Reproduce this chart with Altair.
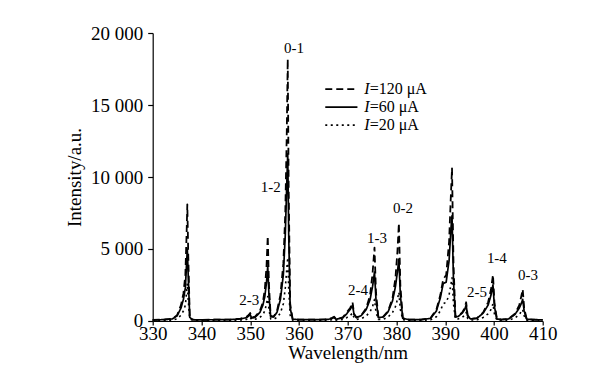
import altair as alt
import pandas as pd

# Wavelength grid (nm)
wl = [330.0, 332.0, 334.0, 335.0, 335.8, 336.3, 336.7, 336.95, 337.1, 337.3, 337.6, 338.2,
      340.0, 343.0, 346.0, 348.0, 349.2, 349.7, 350.0, 350.3, 351.0, 352.0, 352.6, 353.0,
      353.35, 353.6, 353.85, 354.2, 354.8, 355.5, 356.2, 356.8, 357.2, 357.5, 357.7, 357.9,
      358.2, 358.7, 360.0, 363.0, 366.0, 366.8, 367.2, 367.6, 369.0, 369.8, 370.5, 371.0,
      371.3, 371.8, 372.8, 373.8, 374.6, 375.1, 375.5, 375.8, 376.3, 377.3, 378.3, 379.2,
      379.8, 380.2, 380.5, 380.8, 381.3, 382.5, 385.0, 387.0, 388.2, 389.0, 389.6, 390.2,
      390.8, 391.2, 391.4, 391.7, 392.1, 392.7, 393.5, 394.0, 394.3, 394.6, 395.2, 396.5,
      397.8, 398.8, 399.4, 399.8, 400.1, 400.6, 401.5, 403.0, 404.3, 405.2, 405.6, 405.9,
      406.2, 406.7, 408.0, 410.0]

# Intensity at I = 120 uA (dashed)
i120 = [80, 90, 150, 400, 1100, 1900, 3200, 6000, 8100, 4500, 300, 90,
        80, 90, 110, 160, 280, 420, 560, 250, 300, 700, 1300, 2200,
        3800, 5900, 2500, 350, 300, 700, 1800, 4000, 7500, 13000, 18200, 9000,
        1200, 150, 90, 90, 120, 220, 300, 130, 250, 600, 900, 1300,
        500, 250, 400, 900, 1800, 3300, 5100, 2000, 250, 300, 700, 1600,
        3000, 4800, 6800, 2500, 200, 100, 90, 200, 800, 1800, 2900, 3200,
        5500, 9000, 10600, 4000, 300, 350, 600, 900, 1300, 400, 150, 200,
        600, 1300, 2200, 3200, 1300, 150, 100, 150, 500, 1100, 1700, 2200,
        900, 150, 90, 80]

# Intensity at I = 60 uA (solid)
i60 = [80, 90, 140, 350, 900, 1500, 2300, 4000, 5000, 3000, 250, 90,
       80, 90, 100, 140, 230, 340, 450, 200, 250, 600, 1100, 1700,
       2700, 3800, 1800, 300, 280, 600, 1500, 3200, 6000, 9500, 11600, 6000,
       900, 130, 90, 90, 110, 180, 240, 120, 220, 500, 800, 1100,
       450, 230, 380, 800, 1500, 2400, 3400, 1500, 230, 280, 650, 1400,
       2400, 3400, 4300, 1800, 180, 100, 90, 180, 700, 1600, 2600, 2700,
       4200, 6500, 7300, 2800, 280, 320, 550, 800, 1100, 350, 140, 180,
       550, 1100, 1800, 2500, 1000, 140, 100, 140, 450, 900, 1200, 1500,
       700, 130, 90, 80]

# Intensity at I = 20 uA (dotted)
i20 = [40, 40, 60, 150, 400, 700, 1100, 2000, 2600, 1400, 150, 50,
       40, 40, 50, 70, 110, 170, 250, 110, 120, 250, 450, 700,
       1200, 1700, 800, 150, 120, 250, 550, 1200, 2300, 3600, 4400, 2200,
       400, 60, 40, 40, 50, 90, 120, 60, 100, 230, 380, 550,
       220, 110, 160, 350, 650, 1000, 1500, 600, 110, 120, 280, 600,
       1000, 1500, 2000, 800, 90, 50, 40, 80, 300, 700, 1200, 1300,
       1800, 2600, 3000, 1200, 130, 150, 250, 400, 600, 180, 70, 80,
       250, 500, 800, 1200, 500, 70, 50, 60, 200, 450, 650, 800,
       350, 60, 40, 40]

series_names = ["I=120 μA", "I=60 μA", "I=20 μA"]
series_dash = [[7, 4], [1, 0], [2, 3.5]]
series_width = [1.8, 1.6, 1.3]

# Band labels
band_names = ["0-1", "1-2", "2-3", "2-4", "1-3", "0-2", "2-5", "1-4", "0-3"]
band_x = [359.0, 354.2, 349.8, 372.1, 376.0, 381.35, 396.5, 400.6, 407.0]
band_y = [18950, 9300, 1450, 2150, 5750, 7850, 2000, 4380, 3200]

# Legend (in data units)
leg_x1 = [365.4, 365.4, 365.4]
leg_x2 = [372.0, 372.0, 372.0]
leg_y = [16100, 14850, 13600]
leg_rest = ["=120 μA", "=60 μA", "=20 μA"]
leg_text_x = 373.4

assert len(wl) == len(i120) == len(i60) == len(i20)

rows = []
for name, vals in zip(series_names, [i120, i60, i20]):
    for w, v in zip(wl, vals):
        rows.append({"wl": w, "I": v, "series": name})
df = pd.DataFrame(rows)

leg = pd.DataFrame({"x1": leg_x1, "x2": leg_x2, "y": leg_y,
                    "series": series_names, "rest": leg_rest,
                    "tx": [leg_text_x] * 3})
bands = pd.DataFrame({"name": band_names, "x": band_x, "y": band_y})

FONT = "Liberation Serif"
xscale = alt.Scale(domain=[330, 410], nice=False, zero=False)
yscale = alt.Scale(domain=[0, 20000], nice=False)
dash_scale = alt.Scale(domain=series_names, range=series_dash)
width_scale = alt.Scale(domain=series_names, range=series_width)

lines = alt.Chart(df).mark_line(color="black", strokeJoin="round").encode(
    x=alt.X("wl:Q", scale=xscale,
            axis=alt.Axis(title="Wavelength/nm", values=list(range(330, 411, 10)),
                          tickSize=4, labelPadding=0, titlePadding=0,
                          labelFlush=False, labelOverlap=False)),
    y=alt.Y("I:Q", scale=yscale,
            axis=alt.Axis(title="Intensity/a.u.", values=[0, 5000, 10000, 15000, 20000],
                          labelExpr="replace(format(datum.value, ','), ',', ' ')",
                          tickSize=5, labelPadding=5, titlePadding=6,
                          labelFlush=False, labelOverlap=False)),
    strokeDash=alt.StrokeDash("series:N", scale=dash_scale, legend=None),
    size=alt.Size("series:N", scale=width_scale, legend=None),
    order=alt.Order("wl:Q"),
)

band_text = alt.Chart(bands).mark_text(font=FONT, fontSize=15, color="black",
                                        align="center", baseline="middle").encode(
    x=alt.X("x:Q", scale=xscale), y=alt.Y("y:Q", scale=yscale), text="name:N")

leg_lines = alt.Chart(leg).mark_rule(color="black").encode(
    x=alt.X("x1:Q", scale=xscale), x2="x2:Q", y=alt.Y("y:Q", scale=yscale),
    strokeDash=alt.StrokeDash("series:N", scale=dash_scale, legend=None),
    size=alt.Size("series:N", scale=width_scale, legend=None),
)

leg_i = alt.Chart(leg).mark_text(font=FONT, fontSize=16, fontStyle="italic", color="black",
                                  align="left", baseline="middle").encode(
    x=alt.X("tx:Q", scale=xscale), y=alt.Y("y:Q", scale=yscale), text=alt.value("I"))

leg_rest_t = alt.Chart(leg).mark_text(font=FONT, fontSize=16, color="black",
                                       align="left", baseline="middle", dx=5.5).encode(
    x=alt.X("tx:Q", scale=xscale), y=alt.Y("y:Q", scale=yscale), text="rest:N")

chart = alt.layer(lines, band_text, leg_lines, leg_i, leg_rest_t).properties(
    width=390, height=288,
    autosize=alt.AutoSizeParams(type="none"),
    padding={"left": 144.7, "top": 25, "right": 43, "bottom": 42},
).configure_view(stroke=None).configure_axis(
    grid=False, domainColor="black", tickColor="black", labelColor="black",
    titleColor="black", labelFont=FONT, titleFont=FONT, labelFontSize=19,
    titleFontSize=19, titleFontWeight="normal", domainWidth=1.2, tickWidth=1.2,
)

chart.save("out.html", embed_options={"renderer": "svg", "actions": False})
